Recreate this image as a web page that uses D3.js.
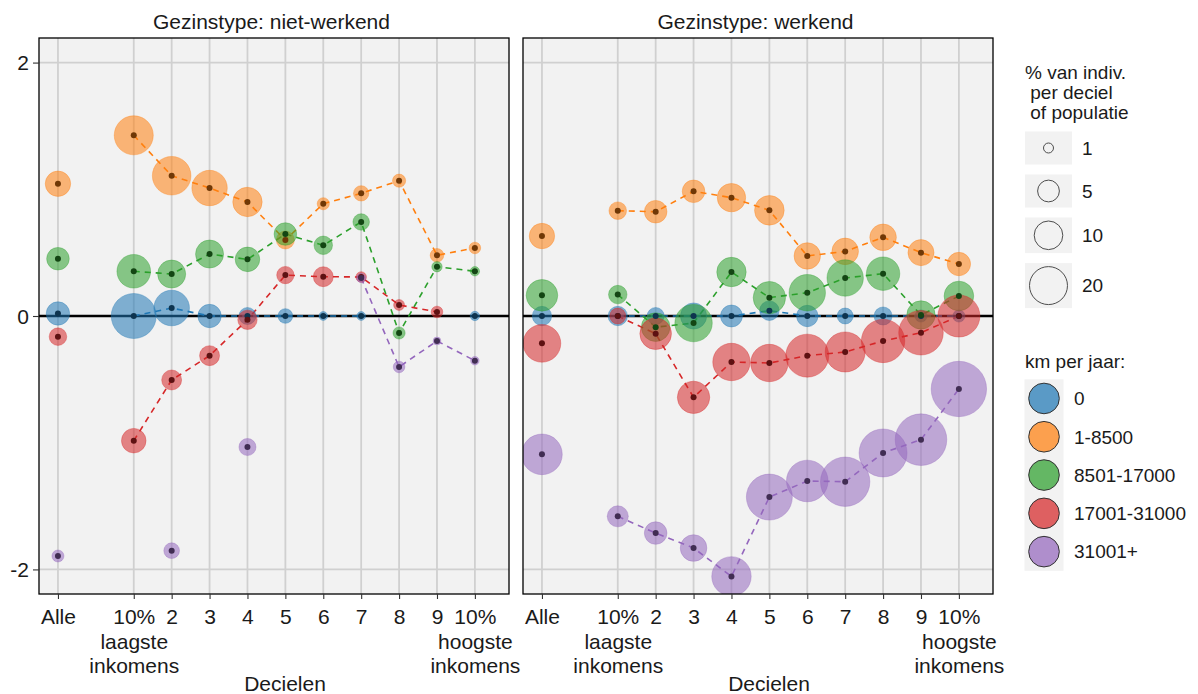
<!DOCTYPE html>
<html>
<head>
<meta charset="utf-8">
<script src="https://cdn.jsdelivr.net/npm/d3@7"></script>
<style>
  html, body { margin: 0; padding: 0; background: #ffffff; }
  svg { display: block; font-family: "Liberation Sans", Arial, sans-serif; }
</style>
</head>
<body>
<svg id="chart" width="1198" height="694"></svg>
<script>
// ---- categories and labels ----
const categories = ["Alle", "10%\nlaagste\ninkomens", "2", "3", "4", "5", "6", "7", "8", "9", "10%\nhoogste\ninkomens"];
const panels = ["niet-werkend", "werkend"];
const kmBands = ["0", "1-8500", "8501-17000", "17001-31000", "31001+"];
const bandColors = ["#1f77b4", "#ff7f0e", "#2ca02c", "#d62728", "#9467bd"];
const yTicks = [-2, 0, 2];
const sizeBreaks = [1, 5, 10, 20];

// ---- Gezinstype: niet-werkend (effect, % van individuen) ----
const nietWerkend_km0        = [0.02, 0.0, 0.063, 0.0, 0.0, 0.0, 0.0, 0.0, null, null, 0.0];
const nietWerkend_km0_pct    = [6.0, 30.0, 17.1, 6.0, 2.7, 1.9, 0.92, 0.92, null, null, 0.95];
const nietWerkend_km1        = [1.044, 1.426, 1.107, 1.010, 0.90, 0.60, 0.886, 0.968, 1.068, 0.479, 0.537];
const nietWerkend_km1_pct    = [7.4, 21.4, 20.8, 16.9, 10.7, 3.1, 1.3, 2.1, 1.5, 1.6, 1.2];
const nietWerkend_km8501     = [0.452, 0.353, 0.331, 0.489, 0.447, 0.647, 0.558, 0.742, -0.134, 0.389, 0.353];
const nietWerkend_km8501_pct = [5.5, 14.9, 9.5, 9.5, 6.8, 5.5, 3.3, 2.5, 1.3, 1.04, 0.95];
const nietWerkend_km17001    = [-0.163, -0.984, -0.505, -0.313, -0.03, 0.323, 0.31, 0.308, 0.087, 0.032, null];
const nietWerkend_km17001_pct= [2.9, 6.8, 4.0, 4.0, 3.7, 2.8, 4.0, 1.06, 1.1, 1.2, null];
const nietWerkend_km31001    = [-1.894, null, -1.852, null, -1.034, null, null, 0.30, -0.402, -0.197, -0.353];
const nietWerkend_km31001_pct= [1.27, null, 2.2, null, 2.7, null, null, 0.93, 1.2, 0.9, 0.91];

// ---- Gezinstype: werkend ----
const werkend_km0        = [0.0, 0.0, 0.0, 0.0, 0.0, 0.042, 0.0, 0.0, 0.0, 0.0, 0.0];
const werkend_km0_pct    = [3.7, 3.7, 2.7, 8.0, 5.1, 3.8, 4.8, 2.3, 3.1, 1.3, 1.3];
const werkend_km1        = [0.631, 0.831, 0.823, 0.984, 0.934, 0.834, 0.474, 0.510, 0.621, 0.50, 0.41];
const werkend_km1_pct    = [7.4, 2.9, 5.5, 5.5, 9.8, 10.9, 8.2, 8.3, 8.3, 7.9, 6.0];
const werkend_km8501     = [0.163, 0.169, -0.088, -0.056, 0.347, 0.145, 0.184, 0.30, 0.334, 0.008, 0.158];
const werkend_km8501_pct = [12.8, 3.3, 10.0, 19.3, 10.7, 13.6, 18.1, 18.1, 14.7, 9.8, 10.9];
const werkend_km17001    = [-0.216, 0.0, -0.14, -0.642, -0.363, -0.371, -0.313, -0.284, -0.197, -0.132, 0.0];
const werkend_km17001_pct= [19.6, 2.3, 12.8, 13.6, 19.3, 19.3, 26.9, 22.7, 27.5, 29.3, 25.5];
const werkend_km31001    = [-1.092, -1.581, -1.713, -1.831, -2.055, -1.429, -1.302, -1.308, -1.081, -0.976, -0.576];
const werkend_km31001_pct= [23.5, 4.6, 5.5, 8.3, 21.9, 31.5, 24.9, 37.2, 34.8, 41.2, 48.5];

const panelSeries = [
  [[nietWerkend_km0, nietWerkend_km0_pct], [nietWerkend_km1, nietWerkend_km1_pct],
   [nietWerkend_km8501, nietWerkend_km8501_pct], [nietWerkend_km17001, nietWerkend_km17001_pct],
   [nietWerkend_km31001, nietWerkend_km31001_pct]],
  [[werkend_km0, werkend_km0_pct], [werkend_km1, werkend_km1_pct],
   [werkend_km8501, werkend_km8501_pct], [werkend_km17001, werkend_km17001_pct],
   [werkend_km31001, werkend_km31001_pct]]
];

// ---- layout ----
const svg = d3.select("#chart");
const panelLeft = [39, 523];
const panelW = 470;
const panelTop = 38, panelBottom = 594;
const fontAxis = 21, fontTitle = 21, fontLegend = 19;

// "Alle" stands apart from the deciles: leave one empty slot after it
const slotOf = i => (i === 0 ? 0 : i + 1);

const y = d3.scaleLinear().domain([-2.194, 2.194]).range([panelBottom, panelTop]);

// bubble area scale (sqrt of share above the smallest share)
const pctMin = 0.9;
const sizeSqrt = d3.scaleSqrt().domain([0, 50]).range([0, 3.45 * Math.sqrt(50)]);
const radius = v => 3.9 + sizeSqrt(Math.max(0, v - pctMin));

const bandIndex = d3.range(kmBands.length);

panels.forEach((name, p) => {
  const x0 = panelLeft[p];
  const x = d3.scaleLinear().domain([-0.5, 11.9]).range([x0, x0 + panelW]);
  const g = svg.append("g");

  const clipId = "clip" + p;
  svg.append("clipPath").attr("id", clipId)
    .append("rect").attr("x", x0).attr("y", panelTop).attr("width", panelW).attr("height", panelBottom - panelTop);

  // panel background
  g.append("rect").attr("x", x0).attr("y", panelTop).attr("width", panelW).attr("height", panelBottom - panelTop)
    .attr("fill", "#f2f2f2");

  // grid
  g.selectAll(".vgrid").data(categories).join("line")
    .attr("x1", (d, i) => x(slotOf(i))).attr("x2", (d, i) => x(slotOf(i)))
    .attr("y1", panelTop).attr("y2", panelBottom)
    .attr("stroke", "#d0d0d0").attr("stroke-width", 1.8);
  g.selectAll(".hgrid").data(yTicks).join("line")
    .attr("x1", x0).attr("x2", x0 + panelW)
    .attr("y1", d => y(d)).attr("y2", d => y(d))
    .attr("stroke", "#d0d0d0").attr("stroke-width", 1.8);

  const plot = g.append("g").attr("clip-path", `url(#${clipId})`);

  // zero line
  plot.append("line").attr("x1", x0).attr("x2", x0 + panelW)
    .attr("y1", y(0)).attr("y2", y(0))
    .attr("stroke", "#000").attr("stroke-width", 2.5);

  const series = panelSeries[p].map(([vals, pcts], b) => ({
    band: b,
    points: vals.map((v, i) => ({ i, v, pct: pcts[i] }))
  }));

  // dashed lines across the deciles (not "Alle")
  const line = d3.line()
    .defined(d => d.v !== null)
    .x(d => x(slotOf(d.i)))
    .y(d => y(d.v));
  plot.selectAll(".trend").data(series).join("path")
    .attr("d", s => line(s.points.slice(1)))
    .attr("fill", "none")
    .attr("stroke", s => bandColors[s.band])
    .attr("stroke-width", 1.6)
    .attr("stroke-dasharray", "6,5");

  // bubbles
  const pts = series.flatMap(s => s.points.filter(d => d.v !== null).map(d => ({ ...d, band: s.band })));
  plot.selectAll(".bubble").data(pts).join("circle")
    .attr("cx", d => x(slotOf(d.i)))
    .attr("cy", d => y(d.v))
    .attr("r", d => radius(d.pct))
    .attr("fill", d => bandColors[d.band])
    .attr("fill-opacity", 0.55)
    .attr("stroke", d => bandColors[d.band])
    .attr("stroke-opacity", 0.35)
    .attr("stroke-width", 1);

  // centre dots
  plot.selectAll(".dot").data(pts).join("circle")
    .attr("cx", d => x(slotOf(d.i)))
    .attr("cy", d => y(d.v))
    .attr("r", 3)
    .attr("fill", d => d3.color(bandColors[d.band]).darker(2.3).formatHex());

  // panel border
  g.append("rect").attr("x", x0).attr("y", panelTop).attr("width", panelW).attr("height", panelBottom - panelTop)
    .attr("fill", "none").attr("stroke", "#000").attr("stroke-width", 1.3);

  // panel title
  svg.append("text")
    .attr("x", x0 + panelW / 2 - 2.5).attr("y", 28.5)
    .attr("text-anchor", "middle").attr("font-size", fontTitle).attr("fill", "#1a1a1a")
    .text("Gezinstype: " + name);

  // x axis
  const xAxis = d3.axisBottom(x)
    .tickValues(categories.map((c, i) => slotOf(i)))
    .tickSize(5)
    .tickFormat("");
  const ax = svg.append("g").attr("transform", `translate(0,${panelBottom})`).call(xAxis);
  ax.select(".domain").remove();
  ax.selectAll(".tick line").attr("stroke", "#333").attr("stroke-width", 1.1);
  ax.selectAll(".tick").each(function (d, i) {
    const t = d3.select(this).append("text")
      .attr("y", 30).attr("fill", "#1a1a1a").attr("font-size", fontAxis)
      .attr("text-anchor", "middle");
    categories[i].split("\n").forEach((ln, k) => {
      t.append("tspan").attr("x", 0).attr("dy", k === 0 ? 0 : 24.5).text(ln);
    });
  });

  svg.append("text")
    .attr("x", x0 + panelW / 2 + 11).attr("y", 691)
    .attr("text-anchor", "middle").attr("font-size", fontTitle).attr("fill", "#1a1a1a")
    .text("Decielen");

  // y axis only on the first panel
  if (p === 0) {
    const yAxis = d3.axisLeft(y).tickValues(yTicks).tickSize(6).tickPadding(4)
      .tickFormat(d => String(d));
    const ay = svg.append("g").attr("transform", `translate(${x0},0)`).call(yAxis);
    ay.select(".domain").remove();
    ay.selectAll(".tick line").attr("stroke", "#333").attr("stroke-width", 1.1);
    ay.selectAll(".tick text").attr("font-size", fontAxis).attr("fill", "#1a1a1a")
      .attr("font-family", "Liberation Sans, Arial, sans-serif").attr("dy", "0.35em");
  }
});

// ---- size legend ----
const lg = svg.append("g").attr("font-size", fontLegend).attr("fill", "#1a1a1a");
const sizeTitle = ["% van indiv.", " per deciel", " of populatie"];
lg.append("text").attr("x", 1025).attr("y", 79).attr("xml:space", "preserve")
  .selectAll("tspan").data(sizeTitle).join("tspan")
  .attr("x", 1025).attr("dy", (d, i) => (i === 0 ? 0 : 20.2))
  .text(d => d);

let ky = 131.5;
sizeBreaks.forEach(v => {
  const r = radius(v);
  const h = Math.max(33, 2 * r + 7);
  lg.append("rect").attr("x", 1025).attr("y", ky).attr("width", 47).attr("height", h).attr("fill", "#f2f2f2");
  lg.append("circle").attr("cx", 1048.5).attr("cy", ky + h / 2).attr("r", r)
    .attr("fill", "none").attr("stroke", "#4d4d4d").attr("stroke-width", 1);
  lg.append("text").attr("x", 1082).attr("y", ky + h / 2).attr("dy", "0.36em").text(v);
  ky += h + 10;
});

// ---- colour legend ----
lg.append("text").attr("x", 1025).attr("y", 368).text("km per jaar:");
const rowH = 38.3, keyTop = 379.3;
lg.append("rect").attr("x", 1024.5).attr("y", keyTop).attr("width", 39).attr("height", rowH * kmBands.length)
  .attr("fill", "#f2f2f2");
bandIndex.forEach(b => {
  const cy = keyTop + rowH * (b + 0.5);
  lg.append("circle").attr("cx", 1044).attr("cy", cy).attr("r", 15.3)
    .attr("fill", bandColors[b]).attr("fill-opacity", 0.72)
    .attr("stroke", "#333").attr("stroke-width", 1);
  lg.append("text").attr("x", 1074).attr("y", cy).attr("dy", "0.36em").text(kmBands[b]);
});
</script>
</body>
</html>
